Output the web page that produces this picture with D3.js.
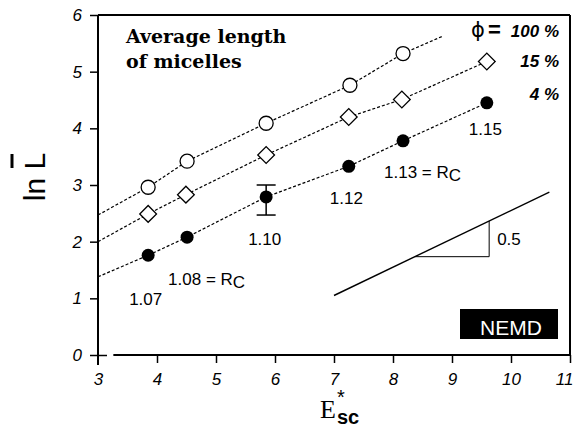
<!DOCTYPE html>
<html>
<head>
<meta charset="utf-8">
<script src="https://cdn.jsdelivr.net/npm/d3@7"></script>
<style>
  body { margin: 0; background: #fff; }
  svg { display: block; }
  .tick text { font-family: "Liberation Sans", Arial, sans-serif; font-style: italic; font-size: 17px; fill: #000; }
  .tick line { stroke: #000; stroke-width: 1.5; }
  .fit { fill: none; stroke: #000; stroke-width: 1.2; stroke-dasharray: 3,2; }
  .lbl { font-family: "Liberation Sans", Arial, sans-serif; font-size: 17px; fill: #000; }
</style>
</head>
<body>
<svg id="chart" width="574" height="432"></svg>
<script>
// ---- data ----
var xTicks = [3, 4, 5, 6, 7, 8, 9, 10, 11];
var yTicks = [0, 1, 2, 3, 4, 5, 6];

// phi = 100 % (open circles)
var esc100 = [3.85, 4.51, 5.85, 7.27, 8.17];
var lnL100 = [2.96, 3.42, 4.09, 4.76, 5.32];
// phi = 15 % (open diamonds)
var esc15 = [3.85, 4.49, 5.85, 7.25, 8.15, 9.59];
var lnL15 = [2.49, 2.83, 3.53, 4.20, 4.51, 5.18];
// phi = 4 % (filled circles)
var esc4 = [3.85, 4.51, 5.85, 7.25, 8.17, 9.59];
var lnL4 = [1.76, 2.08, 2.79, 3.33, 3.78, 4.45];
// error bar on the 4 % point at E = 5.85
var errX = 5.85, errLo = 2.47, errHi = 3.0;

// dashed guide lines: start at E = 3, through the points (100 % runs a bit further)
var startY = { c100: 2.47, c15: 2.0, c4: 1.38 };
var end100 = [8.85, 5.63];

// R value labels on the 4 % series
var rLabels = [
  { x: 3.85, y: 1.76, t: "1.07", sub: "" },
  { x: 4.51, y: 2.08, t: "1.08 = R", sub: "C" },
  { x: 5.85, y: 2.79, t: "1.10", sub: "" },
  { x: 7.25, y: 3.33, t: "1.12", sub: "" },
  { x: 8.17, y: 3.78, t: "1.13 = R", sub: "C" },
  { x: 9.59, y: 4.45, t: "1.15", sub: "" }
];
var rOffsets = [[-19, 50], [-19, 48], [-18, 48], [-19, 38], [-19, 37], [-18, 32]];

// slope 0.5 reference line and triangle
var slopeLine = [[7.0, 1.05], [10.65, 2.875]];
var triX0 = 8.37, triX1 = 9.63, slope = 0.5;

var legend = ["100 %", "15 %", "4 %"];

// ---- layout ----
var svg = d3.select("#chart");
var x = d3.scaleLinear().domain([3, 11]).range([98, 570]);
var y = d3.scaleLinear().domain([0, 6]).range([355, 15]);

// frame
var frame = svg.append("g").attr("class", "frame")
  .attr("stroke", "#000").attr("fill", "none");
frame.append("line").attr("x1", x(3)).attr("x2", x(3)).attr("y1", y(6)).attr("y2", y(0) + 10).attr("stroke-width", 2);
frame.append("line").attr("x1", x(3)).attr("x2", x(11)).attr("y1", y(6)).attr("y2", y(6)).attr("stroke-width", 2);
frame.append("line").attr("x1", x(11)).attr("x2", x(11)).attr("y1", y(6)).attr("y2", y(0)).attr("stroke-width", 2);
frame.append("line").attr("x1", x(3.26)).attr("x2", x(11)).attr("y1", y(0)).attr("y2", y(0)).attr("stroke-width", 2);

// axes
var yAxis = svg.append("g").attr("class", "yaxis")
  .attr("transform", "translate(" + x(3) + ",0)")
  .call(d3.axisLeft(y).tickValues(yTicks).tickSize(8).tickPadding(8).tickFormat(d3.format("d")));
yAxis.select(".domain").remove();
yAxis.selectAll(".tick").filter(function(d) { return d === 0; })
  .append("line").attr("x2", 9);

var xAxis = svg.append("g").attr("class", "xaxis")
  .attr("transform", "translate(0," + y(0) + ")")
  .call(d3.axisBottom(x).tickValues(xTicks).tickSize(8).tickPadding(10).tickFormat(d3.format("d")));
xAxis.select(".domain").remove();
xAxis.selectAll(".tick").filter(function(d) { return d === 3; }).select("line").remove();
// last label sits against the page edge
xAxis.selectAll(".tick").filter(function(d) { return d === 11; }).select("text")
  .attr("text-anchor", "end").attr("x", 3);

// dashed guides
var line = d3.line().x(function(d) { return x(d[0]); }).y(function(d) { return y(d[1]); });
function pts(xs, ys) { return xs.map(function(v, i) { return [v, ys[i]]; }); }

var p100 = [[3, startY.c100]].concat(pts(esc100, lnL100), [end100]);
var p15 = [[3, startY.c15]].concat(pts(esc15, lnL15));
var p4 = [[3, startY.c4]].concat(pts(esc4, lnL4));
[p100, p15, p4].forEach(function(p) {
  svg.append("path").attr("class", "fit").attr("d", line(p));
});

// error bar
var eb = svg.append("g").attr("class", "errbar").attr("stroke", "#000").attr("stroke-width", 1.5);
eb.append("line").attr("x1", x(errX)).attr("x2", x(errX)).attr("y1", y(errLo)).attr("y2", y(errHi));
[errLo, errHi].forEach(function(v) {
  eb.append("line").attr("x1", x(errX) - 9.5).attr("x2", x(errX) + 9.5).attr("y1", y(v)).attr("y2", y(v));
});

// markers
svg.append("g").selectAll("circle").data(pts(esc100, lnL100)).enter().append("circle")
  .attr("cx", function(d) { return x(d[0]); }).attr("cy", function(d) { return y(d[1]); })
  .attr("r", 7).attr("fill", "#fff").attr("stroke", "#000").attr("stroke-width", 1.3);

var diamond = d3.symbol().type(d3.symbolSquare).size(140);
svg.append("g").selectAll("path").data(pts(esc15, lnL15)).enter().append("path")
  .attr("d", diamond)
  .attr("transform", function(d) { return "translate(" + x(d[0]) + "," + y(d[1]) + ") rotate(45)"; })
  .attr("fill", "#fff").attr("stroke", "#000").attr("stroke-width", 1.3);

svg.append("g").selectAll("circle").data(pts(esc4, lnL4)).enter().append("circle")
  .attr("cx", function(d) { return x(d[0]); }).attr("cy", function(d) { return y(d[1]); })
  .attr("r", 6.5).attr("fill", "#000");

// R labels
rLabels.forEach(function(d, i) {
  var t = svg.append("text").attr("class", "lbl")
    .attr("x", x(d.x) + rOffsets[i][0]).attr("y", y(d.y) + rOffsets[i][1]);
  t.append("tspan").text(d.t);
  if (d.sub) t.append("tspan").attr("dy", 3).text(d.sub);
});

// slope triangle
var sl = svg.append("g").attr("class", "slope").attr("stroke", "#000").attr("fill", "none");
sl.append("path").attr("d", line(slopeLine)).attr("stroke-width", 1.4);
var yb = slopeLine[0][1] + slope * (triX0 - slopeLine[0][0]);
sl.append("path").attr("stroke-width", 1)
  .attr("d", line([[triX0, yb], [triX1, yb], [triX1, yb + slope * (triX1 - triX0)]]));
svg.append("text").attr("class", "lbl").attr("x", x(triX1) + 8).attr("y", y(yb) - 12).text("0.5");

// title
var title = svg.append("text")
  .attr("font-family", "'DejaVu Serif', serif").attr("font-weight", "bold").attr("font-size", 19);
title.append("tspan").attr("x", 126).attr("y", 43).text("Average length");
title.append("tspan").attr("x", 126).attr("y", 68).text("of micelles");

// legend
var lgY = [37, 67, 100];
legend.forEach(function(s, i) {
  var t = svg.append("text").attr("x", 559).attr("y", lgY[i]).attr("text-anchor", "end")
    .attr("font-family", "'Liberation Sans', Arial, sans-serif")
    .attr("font-size", 17).attr("font-weight", "bold").attr("font-style", "italic");
  if (i === 0) {
    t.append("tspan").attr("font-family", "'DejaVu Sans', sans-serif").attr("font-style", "normal")
      .attr("font-weight", "normal").attr("font-size", 21).text("\u03D5");
    t.append("tspan").attr("font-style", "normal").attr("font-size", 22).attr("dx", 3).text("=");
    t.append("tspan").attr("dx", 10).text(s);
  } else {
    t.text(s);
  }
});

// NEMD box
svg.append("rect").attr("x", 460).attr("y", 309).attr("width", 98).attr("height", 30).attr("fill", "#000");
svg.append("text").attr("x", 511).attr("y", 335).attr("text-anchor", "middle")
  .attr("font-family", "'Liberation Sans', Arial, sans-serif").attr("font-size", 21)
  .attr("fill", "#fff").text("NEMD");

// y label: ln L-bar
var yl = svg.append("g").attr("transform", "translate(45,177) rotate(-90)");
yl.append("text").attr("text-anchor", "middle")
  .attr("font-family", "'Liberation Sans', Arial, sans-serif").attr("font-size", 30)
  .text("ln L");
yl.append("line").attr("x1", 9).attr("x2", 23).attr("y1", -33).attr("y2", -33)
  .attr("stroke", "#000").attr("stroke-width", 3);

// x label: E*sc
var xl = svg.append("text").attr("x", 320).attr("y", 418);
xl.append("tspan").attr("font-family", "'Liberation Serif', serif").attr("font-size", 26).text("E");
xl.append("tspan").attr("x", 337).attr("y", 404)
  .attr("font-family", "'Liberation Sans', Arial, sans-serif").attr("font-size", 20).text("*");
xl.append("tspan").attr("x", 337).attr("y", 424)
  .attr("font-family", "'Liberation Sans', Arial, sans-serif").attr("font-weight", "bold").attr("font-size", 20).text("sc");
</script>
</body>
</html>
